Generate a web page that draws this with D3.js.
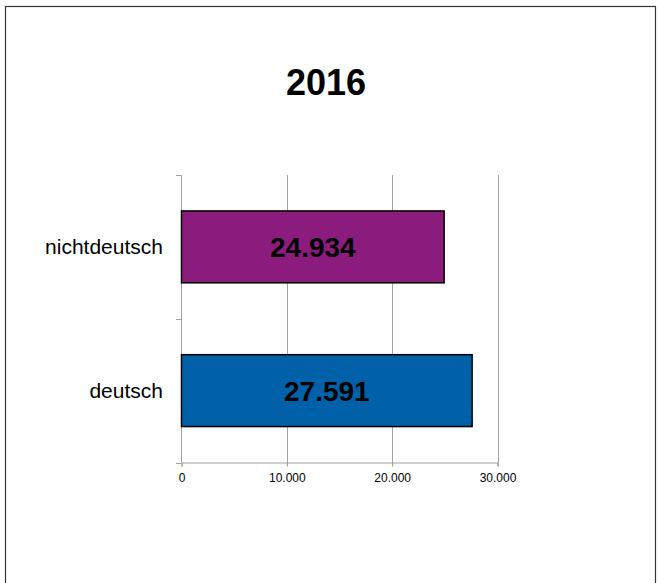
<!DOCTYPE html>
<html>
<head>
<meta charset="utf-8">
<script src="https://cdn.jsdelivr.net/npm/d3@7"></script>
<style>
  body { margin: 0; background: #fff; }
  svg { display: block; font-family: "Liberation Sans", Arial, sans-serif; }
</style>
</head>
<body>
<svg width="658" height="583"></svg>
<script>
// chart values
const title = '2016';
const categories = ['nichtdeutsch', 'deutsch'];
const values = [24934, 27591];
const colors = ['#8b1c7e', '#0060a8'];
const xTicks = [0, 10000, 20000, 30000];

const svg = d3.select('svg');
const fmt = d3.formatLocale({ decimal: ',', thousands: '.', grouping: [3], currency: ['', '€'] }).format(',.0f');

// outer frame
svg.append('rect')
  .attr('x', 5.5).attr('y', 6.5)
  .attr('width', 650).attr('height', 590)
  .attr('fill', 'none').attr('stroke', '#333').attr('stroke-width', 1.2);

svg.append('text')
  .attr('x', 326).attr('y', 95)
  .attr('text-anchor', 'middle')
  .attr('font-size', 36).attr('font-weight', 'bold')
  .text(title);

const x = d3.scaleLinear().domain([0, 30000]).range([181.5, 497.5]);
const y = d3.scaleBand().domain(categories).range([175, 462.5]).paddingInner(0.5).paddingOuter(0.25);

// gridlines
svg.append('g').selectAll('line').data(xTicks.slice(1)).enter().append('line')
  .attr('x1', (d) => Math.round(x(d)) + 0.5).attr('x2', (d) => Math.round(x(d)) + 0.5)
  .attr('y1', 175).attr('y2', 466)
  .attr('stroke', '#a0a0a0');

// x axis
const xAxis = svg.append('g')
  .attr('transform', 'translate(0,462.5)')
  .call(d3.axisBottom(x).tickValues(xTicks).tickSize(4).tickFormat(fmt));
xAxis.select('.domain').attr('stroke', '#a0a0a0');
xAxis.selectAll('.tick line').attr('stroke', '#a0a0a0');
xAxis.selectAll('.tick text').attr('font-size', 12).attr('fill', '#000').attr('dy', '1em')
  .attr('font-family', '"Liberation Sans", Arial, sans-serif');

// y axis line and ticks at band boundaries
svg.append('line')
  .attr('x1', 181.5).attr('x2', 181.5).attr('y1', 175).attr('y2', 462.5)
  .attr('stroke', '#a0a0a0');
const yBounds = [175, (175 + 462.5) / 2, 462.5];
svg.append('g').selectAll('line').data(yBounds).enter().append('line')
  .attr('x1', 176).attr('x2', 181.5)
  .attr('y1', (d) => Math.round(d) + 0.5).attr('y2', (d) => Math.round(d) + 0.5)
  .attr('stroke', '#a0a0a0');

// category labels
svg.append('g').selectAll('text').data(categories).enter().append('text')
  .attr('x', 163)
  .attr('y', (d) => y(d) + y.bandwidth() / 2)
  .attr('dy', '0.35em')
  .attr('text-anchor', 'end')
  .attr('font-size', 21)
  .text((d) => d);

// bars
svg.append('g').selectAll('rect').data(values).enter().append('rect')
  .attr('x', x(0))
  .attr('y', (d, i) => y(categories[i]))
  .attr('width', (d) => x(d) - x(0))
  .attr('height', y.bandwidth())
  .attr('fill', (d, i) => colors[i])
  .attr('stroke', '#000').attr('stroke-width', 1.5);

// value labels
svg.append('g').selectAll('text').data(values).enter().append('text')
  .attr('x', (d) => (x(0) + x(d)) / 2)
  .attr('y', (d, i) => y(categories[i]) + y.bandwidth() / 2)
  .attr('dy', '0.36em')
  .attr('text-anchor', 'middle')
  .attr('font-size', 28).attr('font-weight', 'bold')
  .text((d) => fmt(d));
</script>
</body>
</html>
